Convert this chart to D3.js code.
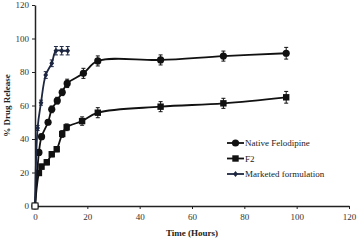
<!DOCTYPE html>
<html>
<head>
<meta charset="utf-8">
<script src="https://d3js.org/d3.v7.min.js"></script>
<style>
body { margin: 0; background: #fff; }
text { font-family: "Liberation Serif", "Times New Roman", serif; }
</style>
</head>
<body>
<script>
// data
var xTicks = [0, 20, 40, 60, 80, 100, 120];
var yTicks = [0, 20, 40, 60, 80, 100, 120];

var nativeTime = [0, 1.5, 2.5, 5, 6.4, 8.5, 10.4, 12.3, 18.5, 24, 48, 72, 96];
var nativeVal  = [0, 32, 41.4, 50, 57.7, 62.9, 67.9, 73.2, 79.2, 86.6, 87.2, 89.5, 91.2];
var nativeErr  = [0, 1.5, 1.5, 1.5, 2, 2, 2, 2.5, 3, 3, 3, 3, 3.5];

var f2Time = [0, 1.5, 2.5, 4.5, 6.4, 8.3, 10.4, 12.1, 18, 24, 48, 72, 96];
var f2Val  = [0, 19.7, 23.5, 26.1, 30.9, 33.9, 43, 47, 50.7, 55.7, 59.3, 61.3, 64.9];
var f2Err  = [0, 1.5, 1.5, 1.5, 1.5, 1.5, 2, 2, 2.5, 3, 3, 3, 3.5];

var mktTime = [0, 1, 2.3, 4.1, 6.4, 8, 10.2, 12.5];
var mktVal  = [0, 46.6, 61.7, 78.2, 85.2, 92.7, 92.7, 92.7];
var mktErr  = [0, 1.5, 1.5, 2, 2, 2.5, 2.5, 2.5];

var svg = d3.select("body")
    .append("svg")
    .attr("width", 358)
    .attr("height", 241)
    .style("display", "block");

var margin = {top: 5, right: 9, bottom: 35, left: 35};
var width = 358 - margin.left - margin.right;
var height = 241 - margin.top - margin.bottom;

var g = svg.append("g").attr("transform", "translate(" + margin.left + "," + margin.top + ")");

var x = d3.scaleLinear().domain([0, 120]).range([0, width]);
var y = d3.scaleLinear().domain([0, 120]).range([height, 0]);

// axes
var xAxis = g.append("g")
    .attr("transform", "translate(0," + height + ")")
    .call(d3.axisBottom(x).tickValues(xTicks).tickSize(3).tickSizeOuter(0));
var yAxis = g.append("g")
    .call(d3.axisLeft(y).tickValues(yTicks).tickSize(3).tickSizeOuter(0));

[xAxis, yAxis].forEach(function (a) {
    a.select(".domain").attr("stroke", "#222").attr("stroke-width", 1.5);
    a.selectAll(".tick line").attr("stroke", "#222");
    a.selectAll("text")
        .style("font-size", "9px")
        .style("font-family", "Liberation Serif, serif")
        .attr("fill", "#333");
});
xAxis.selectAll("text").attr("dy", "0.9em");
yAxis.selectAll("text").attr("x", -6);

var series = [
    {name: "Native Felodipine", t: nativeTime, v: nativeVal, e: nativeErr, shape: "circle", color: "#111"},
    {name: "F2", t: f2Time, v: f2Val, e: f2Err, shape: "square", color: "#111"},
    {name: "Marketed formulation", t: mktTime, v: mktVal, e: mktErr, shape: "diamond", color: "#1c2640"}
];

var line = d3.line()
    .x(function (d) { return x(d.t); })
    .y(function (d) { return y(d.v); })
    .curve(d3.curveCatmullRom.alpha(0.5));

function marker(sel, shape, color) {
    if (shape === "circle") {
        sel.append("circle").attr("r", 3.6).attr("fill", color);
    } else if (shape === "square") {
        sel.append("rect").attr("x", -3.2).attr("y", -3.2).attr("width", 6.4).attr("height", 6.4).attr("fill", color);
    } else {
        sel.append("path").attr("d", "M0,-3L2.4,0L0,3L-2.4,0Z").attr("fill", color);
    }
}

series.forEach(function (s) {
    var pts = s.t.map(function (t, i) { return {t: t, v: s.v[i], e: s.e[i]}; });

    g.append("path")
        .datum(pts)
        .attr("d", line)
        .attr("fill", "none")
        .attr("stroke", s.color)
        .attr("stroke-width", 1.8);

    // error bars
    var eb = g.append("g").selectAll("g")
        .data(pts.filter(function (d) { return d.e > 0; }))
        .enter()
        .append("g")
        .attr("stroke", s.color)
        .attr("stroke-width", 1);
    eb.append("line")
        .attr("x1", function (d) { return x(d.t); })
        .attr("x2", function (d) { return x(d.t); })
        .attr("y1", function (d) { return y(d.v - d.e); })
        .attr("y2", function (d) { return y(d.v + d.e); });
    [-1, 1].forEach(function (k) {
        eb.append("line")
            .attr("x1", function (d) { return x(d.t) - 2; })
            .attr("x2", function (d) { return x(d.t) + 2; })
            .attr("y1", function (d) { return y(d.v + k * d.e); })
            .attr("y2", function (d) { return y(d.v + k * d.e); });
    });

    g.append("g").selectAll("g")
        .data(pts)
        .enter()
        .append("g")
        .attr("transform", function (d) { return "translate(" + x(d.t) + "," + y(d.v) + ")"; })
        .each(function () { marker(d3.select(this), s.shape, s.color); });
});

// start point marker (open box with x)
g.append("rect").attr("x", x(0) - 3).attr("y", y(0) - 3).attr("width", 6).attr("height", 6)
    .attr("fill", "#fff").attr("stroke", "#111").attr("stroke-width", 1);

// legend
var legend = svg.append("g").attr("transform", "translate(227,143)");
series.forEach(function (s, i) {
    var row = legend.append("g").attr("transform", "translate(0," + (i * 15.5) + ")");
    row.append("line").attr("x1", 0).attr("x2", 17).attr("y1", 0).attr("y2", 0)
        .attr("stroke", s.color).attr("stroke-width", 1.8);
    var m = row.append("g").attr("transform", "translate(8.5,0)");
    marker(m, s.shape, s.color);
    row.append("text")
        .attr("x", 18)
        .attr("y", 0)
        .attr("dy", "0.35em")
        .style("font-size", "9px")
        .attr("fill", "#222")
        .text(s.name);
});

// axis titles
svg.append("text")
    .attr("x", margin.left + width / 2)
    .attr("y", 236)
    .attr("text-anchor", "middle")
    .style("font-size", "9px")
    .style("font-weight", "bold")
    .attr("fill", "#222")
    .text("Time (Hours)");

svg.append("text")
    .attr("transform", "translate(10," + (margin.top + height / 2) + ") rotate(-90)")
    .attr("text-anchor", "middle")
    .style("font-size", "9px")
    .style("font-weight", "bold")
    .attr("fill", "#222")
    .text("% Drug Release");
</script>
</body>
</html>
